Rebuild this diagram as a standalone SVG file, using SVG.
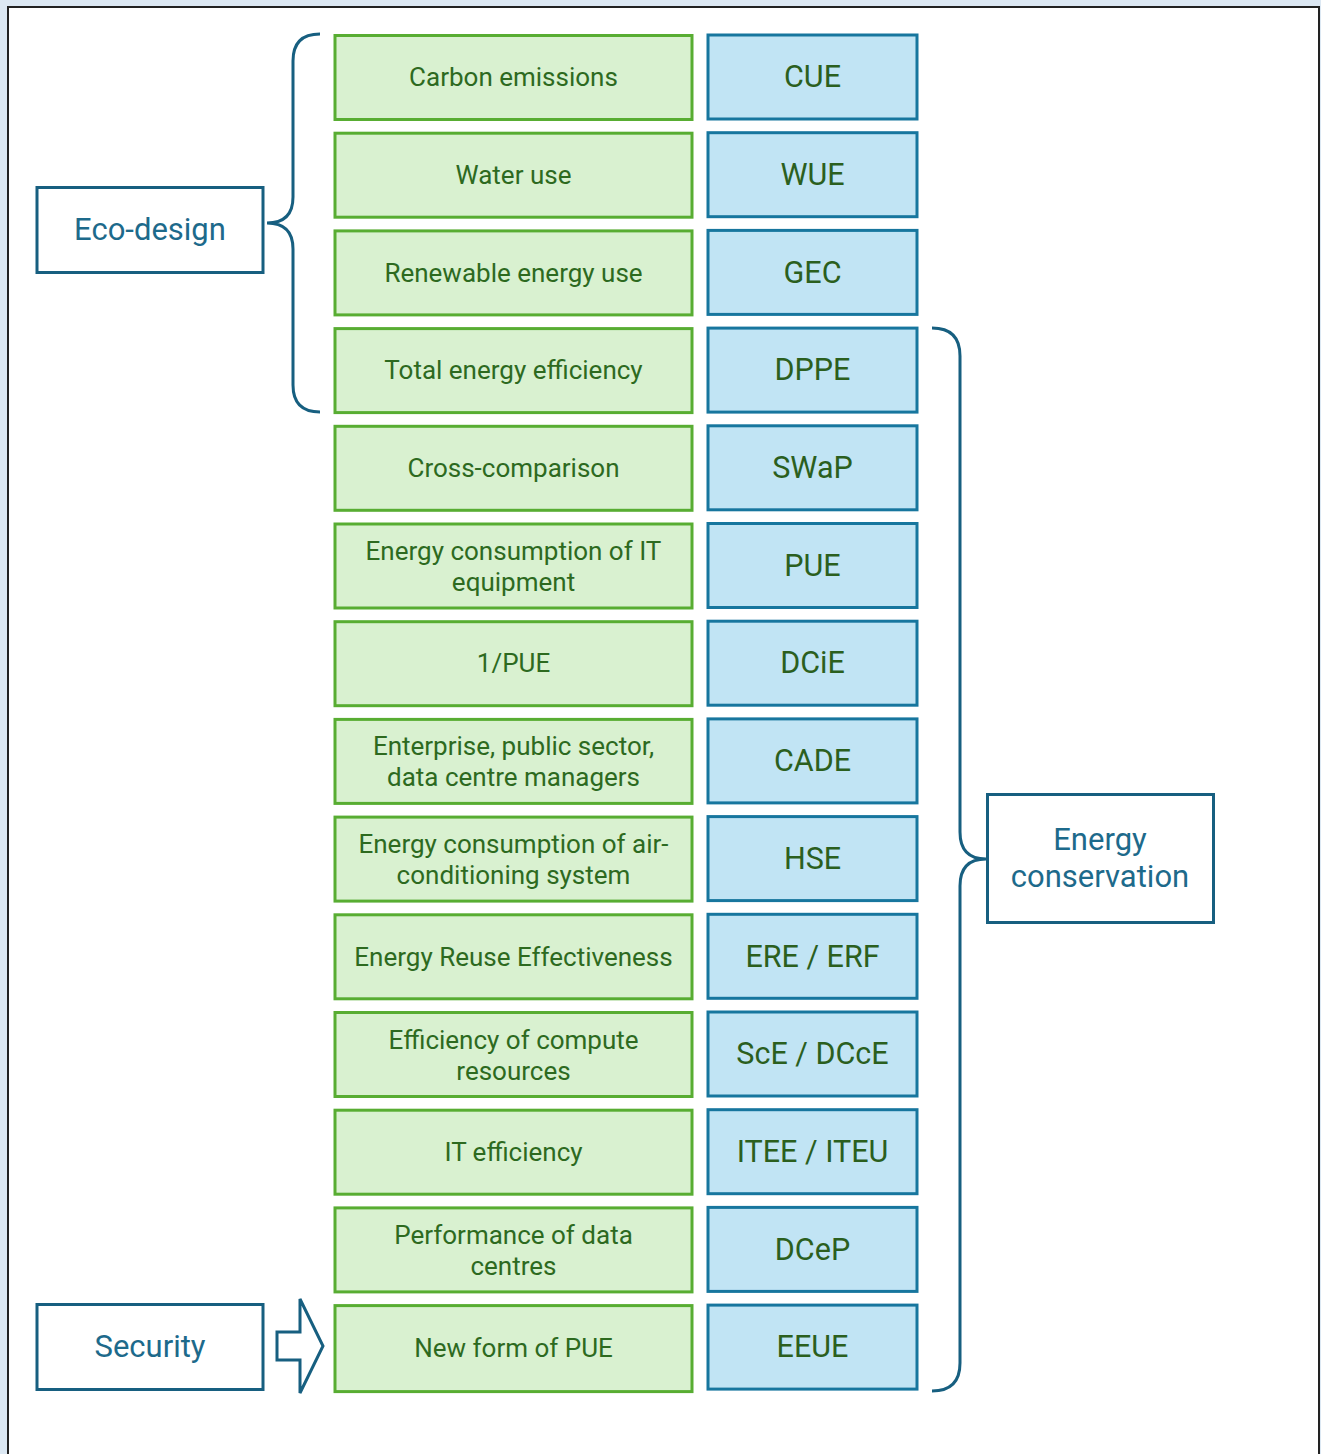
<svg xmlns="http://www.w3.org/2000/svg" width="1321" height="1454" viewBox="0 0 1321 1454">
<style>
.g rect{fill:#d9f1d0;stroke:#58ad32;stroke-width:3}
.g text{font-family:Roboto,"Liberation Sans",sans-serif;font-size:26px;fill:#2d6a1f;text-anchor:middle}
.b rect{fill:#c1e4f4;stroke:#17769e;stroke-width:3}
.b text{font-family:Roboto,"Liberation Sans",sans-serif;font-size:30.5px;fill:#2b5f1e;text-anchor:middle}
.l rect{fill:#fff;stroke:#175f80;stroke-width:3}
.l text{font-family:Roboto,"Liberation Sans",sans-serif;font-size:31px;fill:#1d6a8b;text-anchor:middle}
.c path,.c polygon{fill:none;stroke:#175f80;stroke-width:3;stroke-linejoin:miter}
</style>
<rect x="0" y="0" width="1321" height="1454" fill="#dce8f3"/>
<rect x="8" y="7" width="1311" height="1470" fill="#fff" stroke="#222" stroke-width="2"/>

<g id="green-nodes">
<g id="g1" class="g"><rect x="335" y="35.5" width="357" height="84"/><text x="513.5" y="86.2">Carbon emissions</text></g>
<g id="g2" class="g"><rect x="335" y="133.2" width="357" height="84"/><text x="513.5" y="183.9">Water use</text></g>
<g id="g3" class="g"><rect x="335" y="230.9" width="357" height="84"/><text x="513.5" y="281.6">Renewable energy use</text></g>
<g id="g4" class="g"><rect x="335" y="328.6" width="357" height="84"/><text x="513.5" y="379.3">Total energy efficiency</text></g>
<g id="g5" class="g"><rect x="335" y="426.3" width="357" height="84"/><text x="513.5" y="477">Cross-comparison</text></g>
<g id="g6" class="g"><rect x="335" y="524" width="357" height="84"/><text x="513.5" y="560">Energy consumption of IT</text><text x="513.5" y="591">equipment</text></g>
<g id="g7" class="g"><rect x="335" y="621.7" width="357" height="84"/><text x="513.5" y="672.4">1/PUE</text></g>
<g id="g8" class="g"><rect x="335" y="719.4" width="357" height="84"/><text x="513.5" y="755.4">Enterprise, public sector,</text><text x="513.5" y="786.4">data centre managers</text></g>
<g id="g9" class="g"><rect x="335" y="817.1" width="357" height="84"/><text x="513.5" y="853.1">Energy consumption of air-</text><text x="513.5" y="884.1">conditioning system</text></g>
<g id="g10" class="g"><rect x="335" y="914.8" width="357" height="84"/><text x="513.5" y="965.5">Energy Reuse Effectiveness</text></g>
<g id="g11" class="g"><rect x="335" y="1012.5" width="357" height="84"/><text x="513.5" y="1048.5">Efficiency of compute</text><text x="513.5" y="1079.5">resources</text></g>
<g id="g12" class="g"><rect x="335" y="1110.2" width="357" height="84"/><text x="513.5" y="1160.9">IT efficiency</text></g>
<g id="g13" class="g"><rect x="335" y="1207.9" width="357" height="84"/><text x="513.5" y="1243.9">Performance of data</text><text x="513.5" y="1274.9">centres</text></g>
<g id="g14" class="g"><rect x="335" y="1305.6" width="357" height="86"/><text x="513.5" y="1357.3">New form of PUE</text></g>
</g>

<g id="blue-nodes">
<g id="b1" class="b"><rect x="708" y="35" width="209" height="84"/><text x="812.5" y="87.2">CUE</text></g>
<g id="b2" class="b"><rect x="708" y="132.7" width="209" height="84"/><text x="812.5" y="184.9">WUE</text></g>
<g id="b3" class="b"><rect x="708" y="230.4" width="209" height="84"/><text x="812.5" y="282.6">GEC</text></g>
<g id="b4" class="b"><rect x="708" y="328.1" width="209" height="84"/><text x="812.5" y="380.3">DPPE</text></g>
<g id="b5" class="b"><rect x="708" y="425.8" width="209" height="84"/><text x="812.5" y="478">SWaP</text></g>
<g id="b6" class="b"><rect x="708" y="523.5" width="209" height="84"/><text x="812.5" y="575.7">PUE</text></g>
<g id="b7" class="b"><rect x="708" y="621.2" width="209" height="84"/><text x="812.5" y="673.4">DCiE</text></g>
<g id="b8" class="b"><rect x="708" y="718.9" width="209" height="84"/><text x="812.5" y="771.1">CADE</text></g>
<g id="b9" class="b"><rect x="708" y="816.6" width="209" height="84"/><text x="812.5" y="868.8">HSE</text></g>
<g id="b10" class="b"><rect x="708" y="914.3" width="209" height="84"/><text x="812.5" y="966.5">ERE / ERF</text></g>
<g id="b11" class="b"><rect x="708" y="1012" width="209" height="84"/><text x="812.5" y="1064.2">ScE / DCcE</text></g>
<g id="b12" class="b"><rect x="708" y="1109.7" width="209" height="84"/><text x="812.5" y="1161.9">ITEE / ITEU</text></g>
<g id="b13" class="b"><rect x="708" y="1207.4" width="209" height="84"/><text x="812.5" y="1259.6">DCeP</text></g>
<g id="b14" class="b"><rect x="708" y="1305.1" width="209" height="84"/><text x="812.5" y="1357.3">EEUE</text></g>
</g>

<g id="eco-design" class="l"><rect x="37" y="187.5" width="226" height="85"/><text x="150" y="240">Eco-design</text></g>
<g id="security" class="l"><rect x="37" y="1304.5" width="226" height="85"/><text x="150" y="1357">Security</text></g>
<g id="energy-conservation" class="l"><rect x="987.5" y="794.5" width="226" height="128"/><text x="1100" y="850">Energy</text><text x="1100" y="887">conservation</text></g>

<g id="connectors" class="c">
<path d="M320,34 Q293,34 293,61 L293,197 Q293,223 267,223 Q293,223 293,249 L293,385 Q293,412 320,412"/>
<path d="M932,328 Q960,328 960,356 L960,832 Q960,859 986,859 Q960,859 960,886 L960,1363 Q960,1391 932,1391"/>
<polygon points="277,1332 300,1332 300,1299 323,1346 300,1393 300,1360 277,1360"/>
</g>
</svg>
